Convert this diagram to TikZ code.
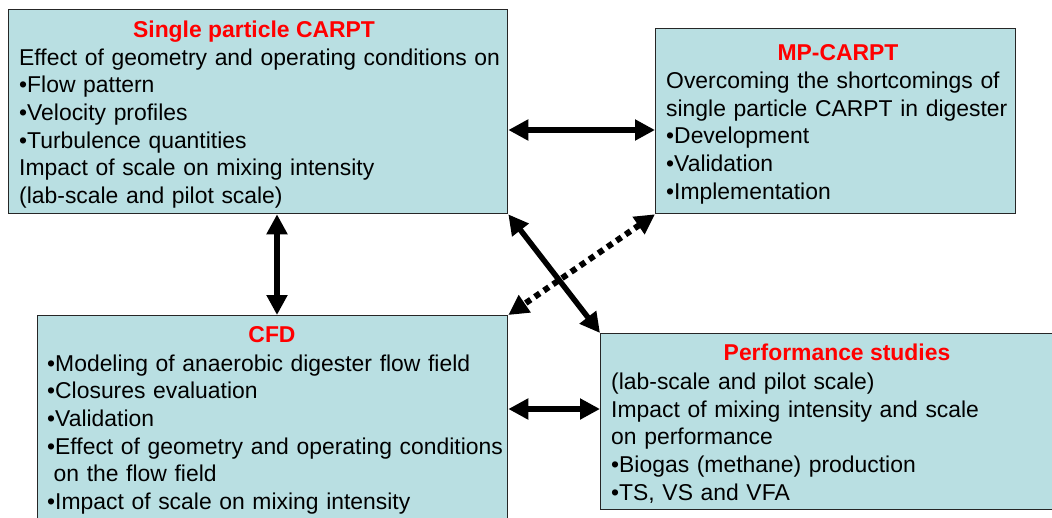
\documentclass[tikz,border=0pt]{standalone}
\usepackage{fontspec}
\setmainfont{Liberation Sans}
\usetikzlibrary{arrows.meta,calc}
\definecolor{boxfill}{RGB}{185,223,226}
\definecolor{titlered}{RGB}{255,0,0}
\begin{document}
\begin{tikzpicture}[x=1pt,y=-1pt,
  box/.style={draw=black!85, line width=1.3pt, fill=boxfill, rectangle, inner sep=0pt, anchor=north west},
  ttl/.style={anchor=base, font=\fontsize{22.9}{27.7}\selectfont\bfseries, text=titlered, inner sep=0pt},
  body/.style={anchor=base west, font=\fontsize{22.9}{27.7}\selectfont, align=left, text width=600pt, inner sep=0pt},
  link/.style={line width=5.5pt, {Triangle[length=20pt,width=20pt]}-{Triangle[length=20pt,width=20pt]}},
  dotlink/.style={link, line width=6pt, dash pattern=on 6pt off 5pt}
]
\useasboundingbox (0,0) rectangle (1052,517);
\clip (0,0) rectangle (1052,517);
\fill[white] (0,0) rectangle (1052,517);

% boxes
\node[box, minimum width=499pt, minimum height=204pt] (b1) at (8,9) {};
\node[box, minimum width=360pt, minimum height=185pt] (b2) at (655,28) {};
\node[box, minimum width=470pt, minimum height=240pt] (b3) at (37,315) {};
\node[box, minimum width=474pt, minimum height=176pt] (b4) at (600,333) {};

% texts
\node[ttl] (t1) at (254,37.3) {Single particle CARPT};
\node[body] (x1) at (19,65) {Effect of geometry and operating conditions on\\
•Flow pattern\\
•Velocity profiles\\
•Turbulence quantities\\
Impact of scale on mixing intensity\\
(lab-scale and pilot scale)};

\node[ttl] (t2) at (838,60) {MP-CARPT};
\node[body] (x2) at (666,88.3) {Overcoming the shortcomings of\\
single particle CARPT in digester\\
•Development\\
•Validation\\
•Implementation};

\node[ttl] (t3) at (272,342.7) {CFD};
\node[body] (x3) at (47,371) {•Modeling of anaerobic digester flow field\\
•Closures evaluation\\
•Validation\\
•Effect of geometry and operating conditions\\
\hspace*{6.5pt}on the flow field\\
•Impact of scale on mixing intensity};

\node[ttl] (t4) at (837,360.7) {Performance studies};
\node[body] (x4) at (611,389.3) {(lab-scale and pilot scale)\\
Impact of mixing intensity and scale\\
on performance\\
•Biogas (methane) production\\
•TS, VS and VFA};

% connectors
\coordinate (hA) at (0,130);
\coordinate (vA) at (277,0);
\coordinate (hB) at (0,409);
\draw[link] (b1.east |- hA) -- (b2.west |- hA);
\draw[link] (b1.south -| vA) -- (b3.north -| vA);
\draw[link] (b3.east |- hB) -- (b4.west |- hB);
\draw[link] (b1.south east) -- (b4.north west);
\draw[dotlink] (b2.south west) -- (b3.north east);
\end{tikzpicture}
\end{document}
